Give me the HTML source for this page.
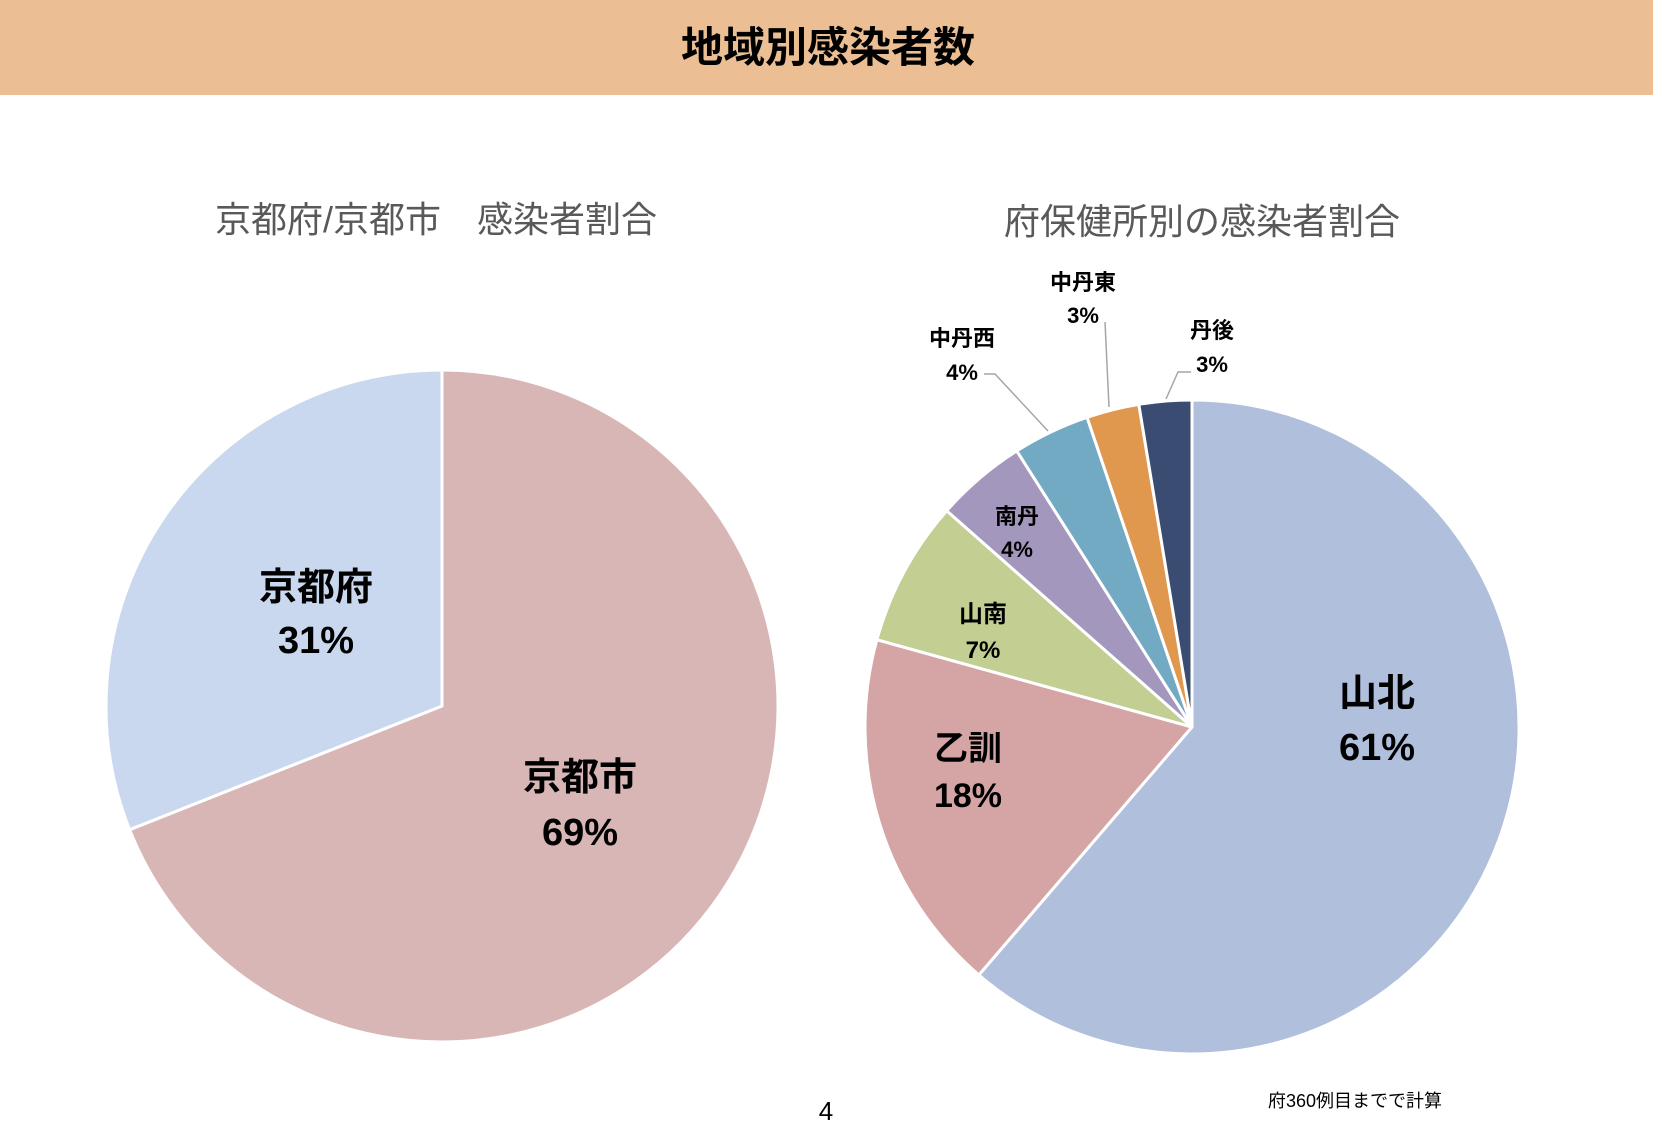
<!DOCTYPE html>
<html><head><meta charset="utf-8"><style>
body{margin:0;width:1653px;height:1125px;background:#fff;overflow:hidden;font-family:"Liberation Sans","Noto Sans CJK JP",sans-serif;}
svg{position:absolute;left:0;top:0}
</style></head><body>
<svg width="1653" height="1125" xmlns="http://www.w3.org/2000/svg" font-family="Liberation Sans, Noto Sans CJK JP, sans-serif">
<rect x="0" y="0" width="1653" height="95" fill="#EBBF93"/>
<text x="828" y="62" text-anchor="middle" font-size="42" font-weight="bold" fill="#000">地域別感染者数</text>
<text x="436" y="232" text-anchor="middle" font-size="36" fill="#595959">京都府/京都市　感染者割合</text>
<text x="1202" y="234" text-anchor="middle" font-size="36" fill="#595959">府保健所別の感染者割合</text>
<g id="left"></g>
<g id="right"></g>
<g id="labels"></g>
<text x="826" y="1120" text-anchor="middle" font-size="26" fill="#000">4</text>
<text x="1355" y="1107" text-anchor="middle" font-size="18" fill="#000">府360例目までで計算</text>
</svg>
<script>
const leftCats=["京都市","京都府"];
const leftVals=[69,31];
const leftLabels=["69%","31%"];
const rightCats=["山北","乙訓","山南","南丹","中丹西","中丹東","丹後"];
const rightVals=[61.3,18,7.2,4.5,3.8,2.6,2.6];
const rightLabels=["61%","18%","7%","4%","4%","3%","3%"];

const NS="http://www.w3.org/2000/svg";
function el(t,a,p){const e=document.createElementNS(NS,t);for(const k in a)e.setAttribute(k,a[k]);p.appendChild(e);return e;}
function pt(cx,cy,r,f){const a=f*2*Math.PI;return [cx+r*Math.sin(a),cy-r*Math.cos(a)];}
function pie(g,cx,cy,r,vals,cats,colors,prefix){
  const tot=vals.reduce((a,b)=>a+b,0);let acc=0;
  vals.forEach((v,i)=>{
    const f0=acc/tot,f1=(acc+v)/tot;acc+=v;
    const p0=pt(cx,cy,r,f0),p1=pt(cx,cy,r,f1);
    const large=(f1-f0)>0.5?1:0;
    const p=el('path',{d:`M${cx},${cy} L${p0[0]},${p0[1]} A${r},${r} 0 ${large} 1 ${p1[0]},${p1[1]} Z`,fill:colors[i],stroke:'#fff','stroke-width':3,'stroke-linejoin':'round'},g);
    
    
  });
}
pie(document.getElementById('left'),442,706,336,leftVals,leftCats,["#D9B6B6","#C9D8EE"],'left');
pie(document.getElementById('right'),1192,727,327,rightVals,rightCats,["#B0BFDC","#D5A5A5","#C2CE92","#A497BE","#72AAC4","#E0974E","#3A4C72"],'right');

const lg=document.getElementById('labels');
function lab(x,y1,y2,fs,name,val,nm){
  const t=el('text',{x:x,y:y1,'text-anchor':'middle','font-size':fs,'font-weight':'bold',fill:'#000'},lg);
  t.textContent=name;
  
  
  const v=el('text',{x:x,y:y2,'text-anchor':'middle','font-size':fs,'font-weight':'bold',fill:'#000'},lg);
  v.textContent=val;
  
  
}
lab(316,600,653,38,leftCats[1],leftLabels[1],'kyoto-fu');
lab(580,790,845,38,leftCats[0],leftLabels[0],'kyoto-shi');
lab(1377,706,760,38,rightCats[0],rightLabels[0],'yamakita');
lab(968,760,807,34,rightCats[1],rightLabels[1],'otokuni');
lab(983,622,658,24,rightCats[2],rightLabels[2],'yamanami');
lab(1017,524,557,22,rightCats[3],rightLabels[3],'nantan');
lab(962,346,380,22,rightCats[4],rightLabels[4],'chutan-nishi');
lab(1083,290,323,22,rightCats[5],rightLabels[5],'chutan-higashi');
lab(1212,338,372,22,rightCats[6],rightLabels[6],'tango');
[["984,374 995,374 1048,431","leader-chutan-nishi"],["1105,322 1109,407","leader-chutan-higashi"],["1191,372 1178,372 1166,399","leader-tango"]].forEach(l=>{
  const p=el('polyline',{points:l[0],fill:'none',stroke:'#A6A6A6','stroke-width':1.5},lg);
  
  
});
</script>
</body></html>
